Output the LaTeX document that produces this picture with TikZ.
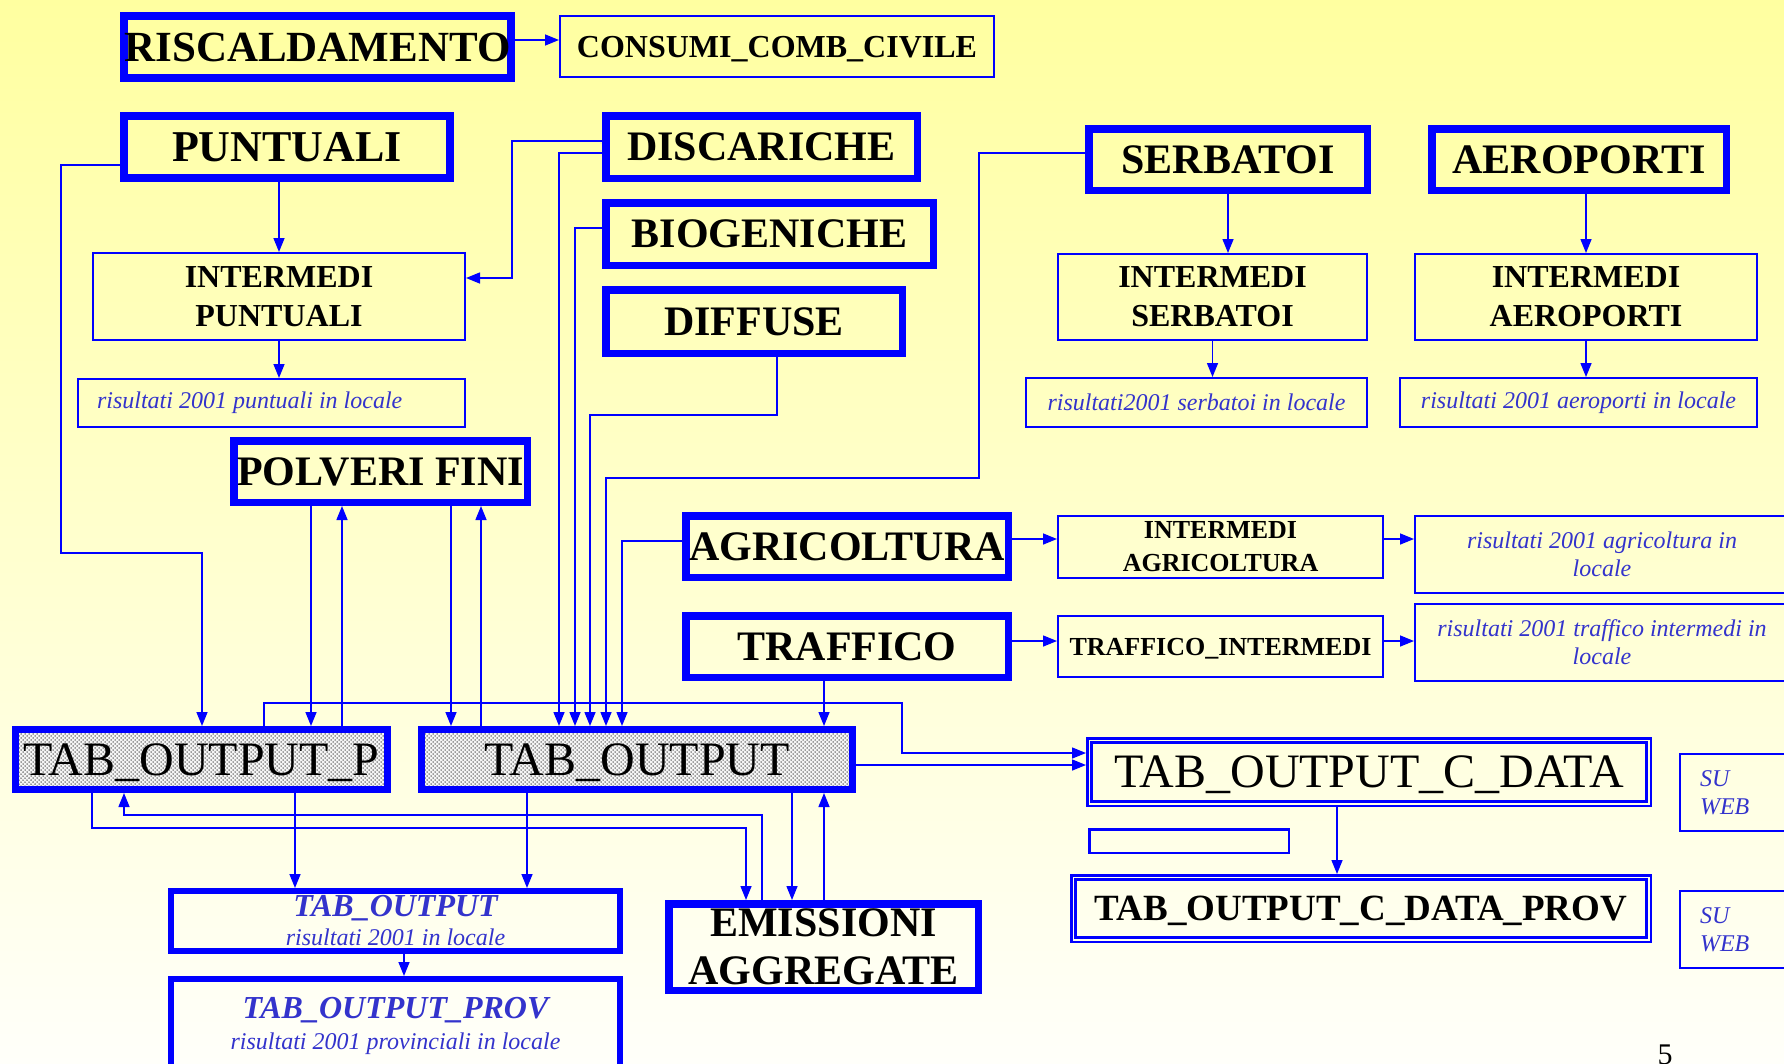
\documentclass[tikz,border=0pt]{standalone}
\usepackage{fontspec}
\setmainfont{Liberation Serif}
\usetikzlibrary{arrows.meta,patterns}
\definecolor{pblue}{RGB}{0,0,255}
\definecolor{itblue}{RGB}{51,51,204}
\definecolor{bgtop}{RGB}{255,255,160}
\definecolor{bgbot}{RGB}{255,255,250}
\pgfdeclarepatternformonly{tdots}{\pgfqpoint{-1pt}{-1pt}}{\pgfqpoint{5pt}{5pt}}{\pgfqpoint{4pt}{4pt}}{%
  \pgfpathcircle{\pgfqpoint{1pt}{1pt}}{0.75pt}%
  \pgfpathcircle{\pgfqpoint{3pt}{3pt}}{0.75pt}%
  \pgfusepath{fill}%
}
\begin{document}
\begin{tikzpicture}[x=1pt,y=-1pt,
  srcbox/.style={draw=pblue, line width=7.5pt, inner sep=0pt, align=center, text=black, font=\fontsize{42}{48}\selectfont\bfseries},
  thinbox/.style={draw=pblue, line width=2pt, inner sep=0pt, align=center, text=black},
  midtext/.style={font=\fontsize{32}{39}\selectfont\bfseries},
  smalltext/.style={font=\fontsize{26}{33}\selectfont\bfseries},
  restext/.style={text=itblue, font=\fontsize{24}{28}\selectfont\itshape},
  tabbox/.style={draw=pblue, line width=7pt, inner sep=0pt, text depth=0pt, preaction={fill=black!4}, pattern=tdots, pattern color=black!75, text=black, font=\fontsize{48}{56}\selectfont},
  italbox/.style={draw=pblue, line width=6pt, inner sep=0pt, align=center, text=itblue},
  dblbox/.style={draw=pblue, line width=2.5pt, inner sep=0pt, text=black},
  conn/.style={draw=pblue, line width=1.5pt},
  arr/.style={conn, -{Triangle[length=14pt,width=11pt]}},
]
\useasboundingbox (0,0) rectangle (1784,1063);
\clip (0,0) rectangle (1784,1063);
\shade[top color=bgtop, bottom color=bgbot] (0,0) rectangle (1784,1063);

% source boxes
\node[srcbox, font=\fontsize{43}{48}\selectfont\bfseries, minimum width=387pt, minimum height=62pt] (risc) at (317.5,47) {RISCALDAMENTO};
\node[thinbox, midtext, text depth=0pt, minimum width=434pt, minimum height=61pt] (consumi) at (777,46.5) {CONSUMI\_COMB\_CIVILE};
\node[srcbox, font=\fontsize{44}{48}\selectfont\bfseries, minimum width=326pt, minimum height=62pt] (punt) at (287,147) {PUNTUALI};
\node[srcbox, minimum width=311.5pt, minimum height=62.5pt] (disc) at (761.5,147) {DISCARICHE};
\node[srcbox, minimum width=327.5pt, minimum height=62.5pt] (bio) at (769.5,234) {BIOGENICHE};
\node[srcbox, minimum width=296.5pt, minimum height=63.5pt] (diff) at (754,321.5) {DIFFUSE};
\node[srcbox, minimum width=278.5pt, minimum height=61.5pt] (serb) at (1228,159.5) {SERBATOI};
\node[srcbox, minimum width=294.5pt, minimum height=61.5pt] (aero) at (1579,159.5) {AEROPORTI};
\node[srcbox, minimum width=293.5pt, minimum height=61.5pt] (polv) at (380.5,471.5) {POLVERI FINI};
\node[srcbox, minimum width=322.5pt, minimum height=61.5pt] (agri) at (847,546.5) {AGRICOLTURA};
\node[srcbox, minimum width=322.5pt, minimum height=61.5pt] (traf) at (847,646.5) {TRAFFICO};
\node[srcbox, minimum width=309.5pt, minimum height=86.5pt] (emis) at (823.5,947) {EMISSIONI\\AGGREGATE};

% intermediate boxes
\node[thinbox, midtext, minimum width=372pt, minimum height=87pt] (intp) at (279,296.5) {INTERMEDI\\PUNTUALI};
\node[thinbox, midtext, minimum width=309pt, minimum height=86pt] (ints) at (1212.5,297) {INTERMEDI\\SERBATOI};
\node[thinbox, midtext, minimum width=342pt, minimum height=86pt] (inta) at (1586,297) {INTERMEDI\\AEROPORTI};
\node[thinbox, smalltext, minimum width=325pt, minimum height=62pt] (intag) at (1220.5,547) {INTERMEDI\\AGRICOLTURA};
\node[thinbox, smalltext, text depth=0pt, minimum width=325pt, minimum height=61pt] (trint) at (1220.5,646.5) {TRAFFICO\_INTERMEDI};

% result boxes
\node[thinbox, restext, align=flush left, text width=349pt, inner xsep=19pt, minimum height=48pt] (resp) at (271.5,403) {risultati 2001 puntuali in locale};
\node[thinbox, restext, minimum width=341pt, minimum height=49pt] (ress) at (1196.5,402.5) {risultati2001 serbatoi in locale};
\node[thinbox, restext, minimum width=357pt, minimum height=49pt] (resa) at (1578.5,402.5) {risultati 2001 aeroporti in locale};
\node[thinbox, restext, minimum width=374pt, minimum height=77pt] (resag) at (1602,554.5) {risultati 2001 agricoltura in\\locale};
\node[thinbox, restext, minimum width=374pt, minimum height=77pt] (restr) at (1602,642.5) {risultati 2001 traffico intermedi in\\locale};

% output tables
\node[tabbox, minimum width=372pt, minimum height=60pt] (tabp) at (201.5,759.5) {TAB\_OUTPUT\_P};
\node[tabbox, minimum width=431pt, minimum height=60pt] (tabo) at (637,759.5) {TAB\_OUTPUT};
\node[italbox, font=\fontsize{24}{29}\selectfont\itshape, minimum width=449pt, minimum height=60pt] (tabi) at (395.5,921)
  {{\fontsize{32}{29}\selectfont\bfseries\itshape TAB\_OUTPUT}\\risultati 2001 in locale};
\node[italbox, font=\fontsize{24}{31}\selectfont\itshape, minimum width=449pt, minimum height=93pt] (tabprov) at (395.5,1025.5)
  {{\fontsize{32}{31}\selectfont\bfseries\itshape TAB\_OUTPUT\_PROV}\\risultati 2001 provinciali in locale};

\node[dblbox, text depth=0pt, font=\fontsize{48}{56}\selectfont, minimum width=563.5pt, minimum height=67.5pt] (cdata) at (1369,772) {TAB\_OUTPUT\_C\_DATA};
\draw[pblue, line width=3.5pt] ([shift={(5.5,5.5)}]cdata.north west) rectangle ([shift={(-5.5,-5.5)}]cdata.south east);
\node[dblbox, text depth=0pt, font=\fontsize{37}{40}\selectfont\bfseries, minimum width=579.5pt, minimum height=66.5pt] (cdprov) at (1361,908.5) {TAB\_OUTPUT\_C\_DATA\_PROV};
\draw[pblue, line width=3.5pt] ([shift={(5.5,5.5)}]cdprov.north west) rectangle ([shift={(-5.5,-5.5)}]cdprov.south east);
\node[dblbox, minimum width=199.5pt, minimum height=23.5pt] (empty) at (1189,841) {};

\node[thinbox, restext, align=flush left, text width=69pt, inner xsep=20pt, minimum height=77pt] (web1) at (1734.5,792.5) {SU\\WEB};
\node[thinbox, restext, align=flush left, text width=69pt, inner xsep=20pt, minimum height=77pt] (web2) at (1734.5,929.5) {SU\\WEB};

\node[anchor=north, inner sep=0pt, font=\fontsize{30}{30}\selectfont] (pg) at (1665,1045) {5};

% connectors
\draw[arr] (risc.east |- 0,40) -- (consumi.west |- 0,40);
\draw[arr] (intp.north |- punt.south) -- (intp.north);
\draw[arr] (intp.south) -- (intp.south |- resp.north);
\draw[arr] (disc.west |- 0,141) -| (512,278) -- (intp.east |- 0,278);
\draw[arr] (punt.west |- 0,165) -| (61,553) -| (tabp.north -| 202,0);
\draw[arr] (disc.west |- 0,153) -| (tabo.north -| 559,0);
\draw[arr] (bio.west |- 0,228) -| (tabo.north -| 575,0);
\draw[arr] (diff.south -| 777,0) |- (590,415) -- (tabo.north -| 590,0);
\draw[arr] (serb.west |- 0,153) -| (979,478) -| (tabo.north -| 606,0);
\draw[arr] (agri.west |- 0,541) -| (tabo.north -| 622,0);
\draw[arr] (traf.south -| 824,0) -- (tabo.north -| 824,0);
\draw[arr] (polv.south -| 311,0) -- (tabp.north -| 311,0);
\draw[arr] (tabp.north -| 342,0) -- (polv.south -| 342,0);
\draw[arr] (polv.south -| 451,0) -- (tabo.north -| 451,0);
\draw[arr] (tabo.north -| 481,0) -- (polv.south -| 481,0);
\draw[arr] (tabp.north -| 264,0) |- (902,703) |- (cdata.west |- 0,753);
\draw[arr] (tabo.east |- 0,765) -- (cdata.west |- 0,765);
\draw[arr] (cdata.south -| 1337,0) -- (cdprov.north -| 1337,0);
\draw[arr] (tabp.south -| 92,0) |- (746,828) -- (emis.north -| 746,0);
\draw[arr] (emis.north -| 762,0) |- (124,815) -- (tabp.south -| 124,0);
\draw[arr] (tabp.south -| 295,0) -- (tabi.north -| 295,0);
\draw[arr] (tabo.south -| 527,0) -- (tabi.north -| 527,0);
\draw[arr] (tabo.south -| 792,0) -- (emis.north -| 792,0);
\draw[arr] (emis.north -| 824,0) -- (tabo.south -| 824,0);
\draw[arr] (tabi.south -| 404,0) -- (tabprov.north -| 404,0);
\draw[arr] (agri.east |- 0,539) -- (intag.west |- 0,539);
\draw[arr] (intag.east |- 0,539) -- (resag.west |- 0,539);
\draw[arr] (traf.east |- 0,641) -- (trint.west |- 0,641);
\draw[arr] (trint.east |- 0,641) -- (restr.west |- 0,641);
\draw[arr] (serb.south) -- (serb.south |- ints.north);
\draw[arr] (ints.south) -- (ints.south |- ress.north);
\draw[arr] (inta.north |- aero.south) -- (inta.north);
\draw[arr] (inta.south) -- (inta.south |- resa.north);
\end{tikzpicture}
\end{document}
